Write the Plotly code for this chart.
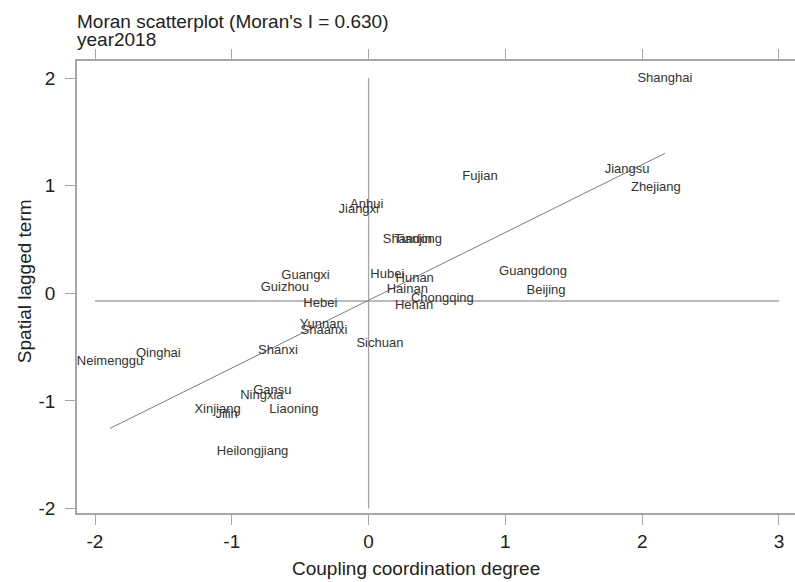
import plotly.graph_objects as go

# Standardised coupling coordination degree (x) and its spatial lag (y), 2018
provinces = [
    "Shanghai", "Jiangsu", "Zhejiang", "Fujian", "Guangdong", "Beijing",
    "Anhui", "Jiangxi", "Shandong", "Tianjin", "Hubei", "Hunan", "Hainan",
    "Chongqing", "Henan", "Guangxi", "Guizhou", "Hebei", "Yunnan", "Shaanxi",
    "Sichuan", "Shanxi", "Neimenggu", "Qinghai", "Gansu", "Ningxia",
    "Xinjiang", "Jilin", "Liaoning", "Heilongjiang",
]
coupling = [
    2.166, 1.890, 2.100, 0.814, 1.202, 1.297,
    -0.014, -0.072, 0.320, 0.325, 0.137, 0.337, 0.283,
    0.539, 0.333, -0.461, -0.612, -0.353, -0.343, -0.326,
    0.083, -0.663, -1.890, -1.537, -0.704, -0.780,
    -1.104, -1.038, -0.546, -0.848,
]
spatial_lag = [
    1.997, 1.145, 0.984, 1.080, 0.197, 0.020,
    0.820, 0.773, 0.500, 0.495, 0.169, 0.132, 0.036,
    -0.047, -0.116, 0.163, 0.055, -0.100, -0.296, -0.349,
    -0.466, -0.534, -0.637, -0.559, -0.909, -0.955,
    -1.079, -1.132, -1.079, -1.473,
]

morans_i = 0.630
fit_intercept = -0.065
lag_mean = -0.072

x_ticks = [-2, -1, 0, 1, 2, 3]
x_tick_text = ["-2", "-1", "0", "1", "2", "3"]
y_ticks = [-2, -1, 0, 1, 2]
y_tick_text = ["-2", "-1", "0", "1", "2"]

FONT = "Arial, Liberation Sans, sans-serif"
AXIS_GRAY = "#a6a6a6"

fig = go.Figure()

# Quadrant reference lines
fig.add_trace(go.Scatter(
    x=[min(x_ticks), max(x_ticks)], y=[lag_mean, lag_mean], mode="lines",
    line=dict(color=AXIS_GRAY, width=1.3), hoverinfo="skip", showlegend=False,
))
fig.add_trace(go.Scatter(
    x=[0, 0], y=[min(y_ticks), max(y_ticks)], mode="lines",
    line=dict(color=AXIS_GRAY, width=1.3), hoverinfo="skip", showlegend=False,
))

# Fitted line with slope equal to Moran's I
x_lo, x_hi = min(coupling), max(coupling)
fig.add_trace(go.Scatter(
    x=[x_lo, x_hi],
    y=[fit_intercept + morans_i * x_lo, fit_intercept + morans_i * x_hi],
    mode="lines", line=dict(color="#6e6e6e", width=0.9),
    hoverinfo="skip", showlegend=False,
))

# Province labels placed at their coordinates
fig.add_trace(go.Scatter(
    x=coupling, y=spatial_lag, mode="text", text=provinces,
    textposition="middle center", cliponaxis=False,
    textfont=dict(family=FONT, size=13, color="#333333"),
    showlegend=False,
))

fig.update_layout(
    width=795, height=582,
    margin=dict(l=77, r=0, t=61, b=69),
    paper_bgcolor="white", plot_bgcolor="white",
    font=dict(family=FONT, color="#222222"),
    xaxis=dict(
        range=[-2.1316, 3.117], tickvals=x_ticks, ticktext=x_tick_text,
        showgrid=False, zeroline=False,
        showline=True, linecolor=AXIS_GRAY, linewidth=1.5, mirror="ticks",
        ticks="outside", ticklen=10, tickcolor=AXIS_GRAY, tickwidth=1.2,
        tickfont=dict(family=FONT, size=19, color="#222222"),
    ),
    yaxis=dict(
        range=[-2.042, 2.158], tickvals=y_ticks, ticktext=y_tick_text,
        showgrid=False, zeroline=False,
        showline=True, linecolor=AXIS_GRAY, linewidth=1.5,
        ticks="outside", ticklen=10, tickcolor=AXIS_GRAY, tickwidth=1.2,
        ticklabelstandoff=6,
        tickfont=dict(family=FONT, size=19, color="#222222"),
    ),
    annotations=[
        dict(text="Moran scatterplot (Moran's I = 0.630)", xref="paper", yref="paper",
             x=-0.003, y=1.0874, xanchor="left", yanchor="middle", showarrow=False,
             font=dict(family=FONT, size=19, color="#222222")),
        dict(text="year2018", xref="paper", yref="paper",
             x=-0.003, y=1.0465, xanchor="left", yanchor="middle", showarrow=False,
             font=dict(family=FONT, size=19, color="#222222")),
        dict(text="Coupling coordination degree", xref="paper", yref="paper",
             x=0.472, y=-0.1217, xanchor="center", yanchor="middle", showarrow=False,
             font=dict(family=FONT, size=19, color="#222222")),
        dict(text="Spatial lagged term", xref="paper", yref="paper",
             x=-0.0738, y=0.513, xanchor="center", yanchor="middle", showarrow=False,
             textangle=-90, font=dict(family=FONT, size=19, color="#222222")),
    ],
)

fig.write_html("out.html")
